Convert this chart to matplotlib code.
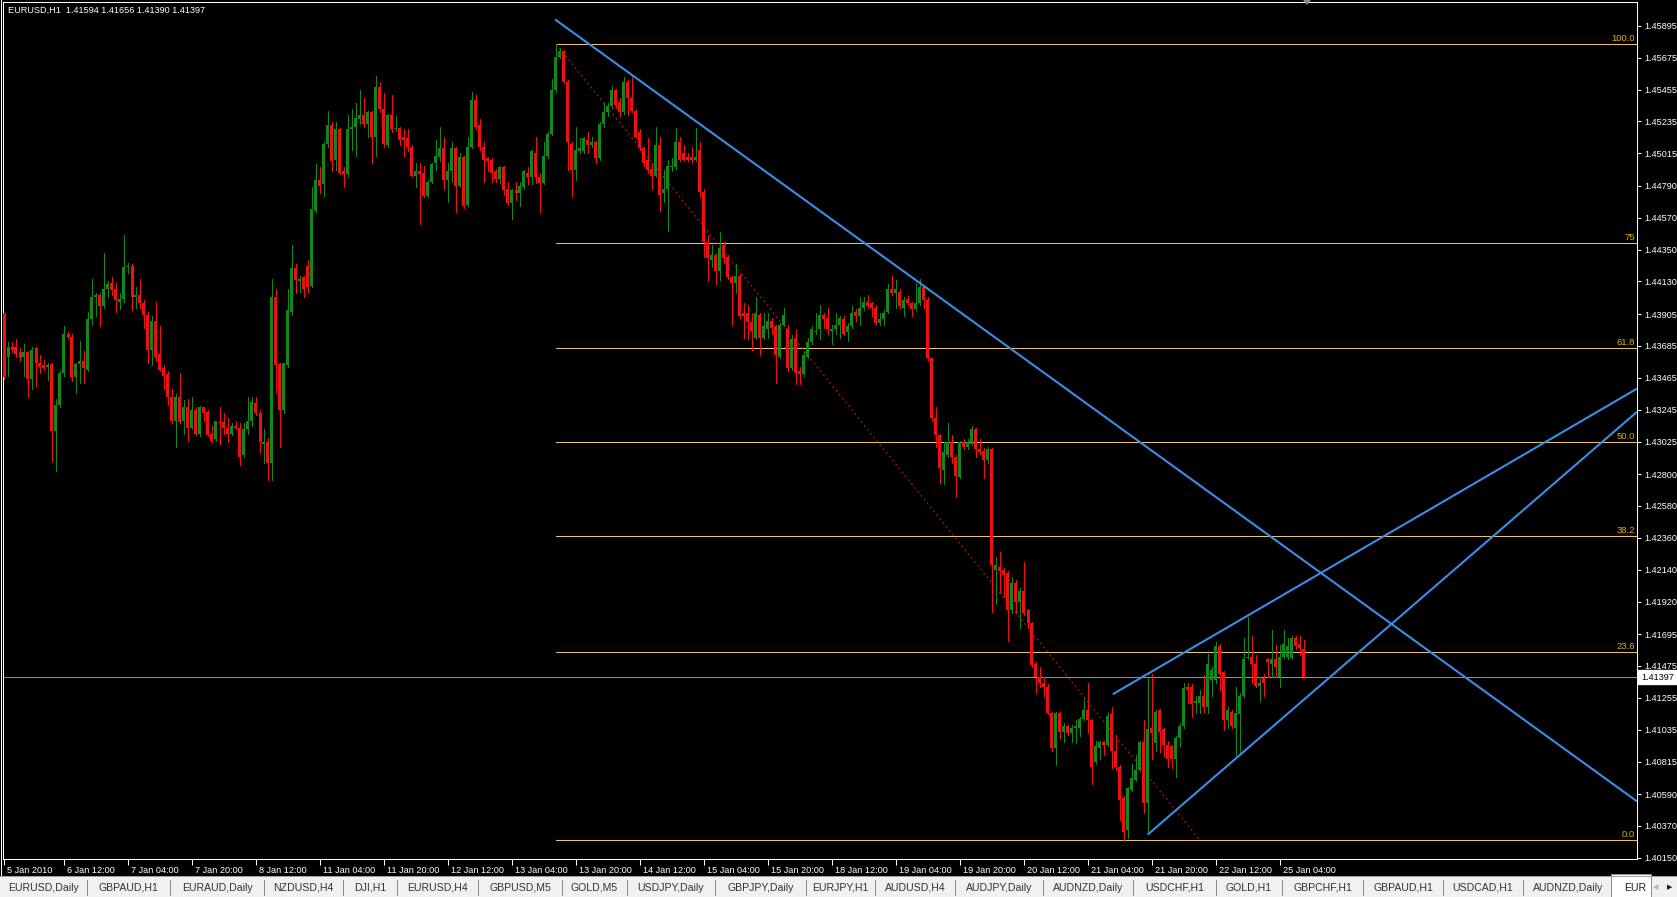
import matplotlib.pyplot as plt
import numpy as np
from matplotlib.patches import Rectangle, Polygon
from matplotlib.transforms import ScaledTranslation

plt.rcParams['font.family'] = ['Liberation Sans', 'DejaVu Sans']

#--- EURUSD H1 bars, one value per hourly bar
opens = [
    1.4391, 1.4361, 1.4368, 1.4368, 1.4364, 1.4361, 1.4364, 1.4346, 1.4367, 1.4357,
    1.4355, 1.4354, 1.4356, 1.4310, 1.4328, 1.4350, 1.4377, 1.4375, 1.4347, 1.4356,
    1.4358, 1.4352, 1.4387, 1.4402, 1.4404, 1.4396, 1.4408, 1.4412, 1.4408, 1.4399,
    1.4401, 1.4423, 1.4424, 1.4402, 1.4404, 1.4398, 1.4390, 1.4366, 1.4386, 1.4363,
    1.4353, 1.4349, 1.4333, 1.4317, 1.4333, 1.4317, 1.4326, 1.4312, 1.4324, 1.4308,
    1.4326, 1.4323, 1.4308, 1.4304, 1.4316, 1.4316, 1.4312, 1.4308, 1.4313, 1.4312,
    1.4293, 1.4311, 1.4317, 1.4329, 1.4322, 1.4301, 1.4302, 1.4288, 1.4402, 1.4356,
    1.4324, 1.4355, 1.4392, 1.4422, 1.4413, 1.4416, 1.4424, 1.4410, 1.4462, 1.4483,
    1.4480, 1.4508, 1.4521, 1.4497, 1.4518, 1.4489, 1.4487, 1.4518, 1.4520, 1.4525,
    1.4528, 1.4522, 1.4530, 1.4513, 1.4547, 1.4532, 1.4507, 1.4528, 1.4518, 1.4519,
    1.4513, 1.4512, 1.4506, 1.4486, 1.4489, 1.4488, 1.4472, 1.4482, 1.4495, 1.4499,
    1.4505, 1.4483, 1.4489, 1.4505, 1.4479, 1.4499, 1.4466, 1.4506, 1.4538, 1.4521,
    1.4506, 1.4498, 1.4497, 1.4489, 1.4484, 1.4492, 1.4477, 1.4467, 1.4476, 1.4474,
    1.4478, 1.4488, 1.4485, 1.4502, 1.4485, 1.4481, 1.4500, 1.4515, 1.4545, 1.4568,
    1.4572, 1.4551, 1.4508, 1.4490, 1.4503, 1.4503, 1.4511, 1.4507, 1.4509, 1.4498,
    1.4522, 1.4530, 1.4534, 1.4545, 1.4537, 1.4530, 1.4551, 1.4540, 1.4531, 1.4516,
    1.4505, 1.4497, 1.4491, 1.4486, 1.4507, 1.4474, 1.4477, 1.4492, 1.4492, 1.4509,
    1.4502, 1.4499, 1.4499, 1.4497, 1.4504, 1.4475, 1.4440, 1.4428, 1.4431, 1.4420,
    1.4438, 1.4430, 1.4416, 1.4412, 1.4417, 1.4391, 1.4391, 1.4385, 1.4374, 1.4390,
    1.4374, 1.4380, 1.4386, 1.4382, 1.4361, 1.4383, 1.4380, 1.4353, 1.4374, 1.4351,
    1.4349, 1.4361, 1.4371, 1.4378, 1.4380, 1.4390, 1.4388, 1.4379, 1.4380, 1.4383,
    1.4387, 1.4378, 1.4382, 1.4392, 1.4389, 1.4395, 1.4399, 1.4398, 1.4395, 1.4384,
    1.4387, 1.4392, 1.4408, 1.4405, 1.4406, 1.4395, 1.4401, 1.4398, 1.4394, 1.4398,
    1.4409, 1.4400, 1.4360, 1.4319, 1.4307, 1.4283, 1.4293, 1.4302, 1.4292, 1.4278,
    1.4302, 1.4299, 1.4301, 1.4311, 1.4297, 1.4296, 1.4290, 1.4297, 1.4214, 1.4216,
    1.4214, 1.4212, 1.4186, 1.4205, 1.4192, 1.4199, 1.4186, 1.4177, 1.4149, 1.4140,
    1.4136, 1.4133, 1.4115, 1.4091, 1.4115, 1.4102, 1.4106, 1.4101, 1.4105, 1.4105,
    1.4111, 1.4117, 1.4110, 1.4081, 1.4091, 1.4095, 1.4093, 1.4114, 1.4089, 1.4078,
    1.4056, 1.4034, 1.4062, 1.4069, 1.4076, 1.4095, 1.4053, 1.4105, 1.4094, 1.4117,
    1.4104, 1.4093, 1.4092, 1.4083, 1.4098, 1.4106, 1.4133, 1.4133, 1.4122, 1.4122,
    1.4127, 1.4119, 1.4138, 1.4138, 1.4161, 1.4143, 1.4110, 1.4116, 1.4105, 1.4114,
    1.4127, 1.4153, 1.4154, 1.4149, 1.4134, 1.4139, 1.4152, 1.4149, 1.4152, 1.4140,
    1.4154, 1.4154, 1.4153, 1.4167, 1.4163, 1.41594,
]
highs = [
    1.4391, 1.4371, 1.4371, 1.4373, 1.4367, 1.4370, 1.4365, 1.4368, 1.4368, 1.4362,
    1.4359, 1.4357, 1.4357, 1.4332, 1.4351, 1.4382, 1.4378, 1.4377, 1.4357, 1.4372,
    1.4365, 1.4392, 1.4415, 1.4405, 1.4405, 1.4433, 1.4413, 1.4416, 1.4412, 1.4405,
    1.4445, 1.4426, 1.4425, 1.4409, 1.4415, 1.4400, 1.4392, 1.4389, 1.4399, 1.4382,
    1.4355, 1.4351, 1.4339, 1.4335, 1.4350, 1.4331, 1.4332, 1.4333, 1.4326, 1.4327,
    1.4326, 1.4324, 1.4313, 1.4317, 1.4326, 1.4322, 1.4319, 1.4315, 1.4317, 1.4315,
    1.4315, 1.4333, 1.4333, 1.4333, 1.4324, 1.4311, 1.4305, 1.4415, 1.4408, 1.4357,
    1.4357, 1.4408, 1.4438, 1.4425, 1.4417, 1.4417, 1.4428, 1.4478, 1.4494, 1.4492,
    1.4509, 1.4531, 1.4523, 1.4523, 1.4519, 1.4492, 1.4528, 1.4532, 1.4536, 1.4545,
    1.4540, 1.4531, 1.4531, 1.4555, 1.4551, 1.4543, 1.4529, 1.4542, 1.4527, 1.4520,
    1.4518, 1.4518, 1.4507, 1.4495, 1.4495, 1.4493, 1.4483, 1.4495, 1.4511, 1.4520,
    1.4513, 1.4495, 1.4509, 1.4506, 1.4502, 1.4500, 1.4513, 1.4544, 1.4542, 1.4525,
    1.4509, 1.4499, 1.4498, 1.4491, 1.4493, 1.4493, 1.4482, 1.4477, 1.4482, 1.4482,
    1.4490, 1.4492, 1.4504, 1.4513, 1.4488, 1.4509, 1.4516, 1.4553, 1.4577, 1.4574,
    1.4573, 1.4552, 1.4509, 1.4520, 1.4512, 1.4513, 1.4516, 1.4513, 1.4510, 1.4523,
    1.4536, 1.4536, 1.4548, 1.4546, 1.4540, 1.4554, 1.4552, 1.4554, 1.4532, 1.4518,
    1.4506, 1.4512, 1.4495, 1.4520, 1.4513, 1.4490, 1.4497, 1.4498, 1.4519, 1.4513,
    1.4507, 1.4502, 1.4506, 1.4519, 1.4509, 1.4477, 1.4445, 1.4438, 1.4433, 1.4447,
    1.4440, 1.4431, 1.4417, 1.4425, 1.4418, 1.4398, 1.4397, 1.4391, 1.4402, 1.4391,
    1.4391, 1.4391, 1.4388, 1.4383, 1.4384, 1.4395, 1.4383, 1.4376, 1.4380, 1.4354,
    1.4364, 1.4374, 1.4382, 1.4391, 1.4397, 1.4391, 1.4395, 1.4383, 1.4391, 1.4389,
    1.4389, 1.4384, 1.4396, 1.4394, 1.4402, 1.4402, 1.4404, 1.4399, 1.4397, 1.4391,
    1.4393, 1.4411, 1.4417, 1.4414, 1.4408, 1.4402, 1.4403, 1.4399, 1.4412, 1.4415,
    1.4410, 1.4402, 1.4361, 1.4326, 1.4308, 1.4302, 1.4315, 1.4307, 1.4293, 1.4303,
    1.4304, 1.4304, 1.4313, 1.4312, 1.4304, 1.4298, 1.4299, 1.4298, 1.4223, 1.4226,
    1.4215, 1.4213, 1.4209, 1.4207, 1.4201, 1.4219, 1.4187, 1.4178, 1.4150, 1.4147,
    1.4140, 1.4135, 1.4116, 1.4116, 1.4116, 1.4108, 1.4107, 1.4107, 1.4110, 1.4112,
    1.4125, 1.4136, 1.4111, 1.4096, 1.4096, 1.4096, 1.4115, 1.4119, 1.4100, 1.4079,
    1.4058, 1.4064, 1.4080, 1.4086, 1.4096, 1.4110, 1.4139, 1.4142, 1.4117, 1.4118,
    1.4105, 1.4096, 1.4093, 1.4099, 1.4108, 1.4136, 1.4136, 1.4135, 1.4127, 1.4131,
    1.4141, 1.4156, 1.4147, 1.4164, 1.4163, 1.4144, 1.4119, 1.4117, 1.4133, 1.4129,
    1.4167, 1.4181, 1.4168, 1.4155, 1.4140, 1.4142, 1.4153, 1.4172, 1.4162, 1.4162,
    1.4172, 1.4167, 1.4168, 1.4168, 1.4168, 1.41656,
]
lows = [
    1.4346, 1.4348, 1.4364, 1.4361, 1.4358, 1.4348, 1.4333, 1.4339, 1.4341, 1.4350,
    1.4352, 1.4345, 1.4289, 1.4282, 1.4326, 1.4348, 1.4374, 1.4344, 1.4336, 1.4343,
    1.4343, 1.4351, 1.4383, 1.4389, 1.4382, 1.4395, 1.4402, 1.4404, 1.4392, 1.4394,
    1.4399, 1.4419, 1.4393, 1.4395, 1.4395, 1.4381, 1.4357, 1.4355, 1.4358, 1.4351,
    1.4339, 1.4328, 1.4315, 1.4299, 1.4315, 1.4308, 1.4303, 1.4311, 1.4307, 1.4306,
    1.4317, 1.4306, 1.4302, 1.4303, 1.4301, 1.4308, 1.4302, 1.4307, 1.4311, 1.4286,
    1.4292, 1.4308, 1.4313, 1.4321, 1.4295, 1.4288, 1.4276, 1.4276, 1.4336, 1.4299,
    1.4322, 1.4354, 1.4390, 1.4405, 1.4406, 1.4402, 1.4406, 1.4409, 1.4461, 1.4474,
    1.4472, 1.4506, 1.4489, 1.4490, 1.4487, 1.4478, 1.4485, 1.4504, 1.4500, 1.4522,
    1.4520, 1.4513, 1.4495, 1.4500, 1.4530, 1.4506, 1.4506, 1.4516, 1.4517, 1.4507,
    1.4500, 1.4503, 1.4485, 1.4478, 1.4453, 1.4471, 1.4471, 1.4481, 1.4490, 1.4496,
    1.4477, 1.4468, 1.4482, 1.4461, 1.4478, 1.4464, 1.4465, 1.4505, 1.4518, 1.4504,
    1.4482, 1.4489, 1.4482, 1.4482, 1.4481, 1.4473, 1.4466, 1.4456, 1.4469, 1.4465,
    1.4477, 1.4480, 1.4480, 1.4481, 1.4461, 1.4480, 1.4498, 1.4514, 1.4544, 1.4567,
    1.4550, 1.4490, 1.4472, 1.4483, 1.4502, 1.4502, 1.4502, 1.4506, 1.4495, 1.4497,
    1.4520, 1.4527, 1.4533, 1.4533, 1.4527, 1.4529, 1.4528, 1.4530, 1.4512, 1.4504,
    1.4493, 1.4488, 1.4477, 1.4485, 1.4462, 1.4468, 1.4448, 1.4489, 1.4491, 1.4496,
    1.4496, 1.4496, 1.4495, 1.4496, 1.4472, 1.4430, 1.4413, 1.4423, 1.4411, 1.4414,
    1.4426, 1.4415, 1.4383, 1.4405, 1.4388, 1.4374, 1.4373, 1.4366, 1.4373, 1.4362,
    1.4373, 1.4374, 1.4377, 1.4343, 1.4360, 1.4382, 1.4351, 1.4352, 1.4342, 1.4342,
    1.4348, 1.4360, 1.4370, 1.4377, 1.4373, 1.4381, 1.4377, 1.4370, 1.4377, 1.4374,
    1.4376, 1.4372, 1.4381, 1.4386, 1.4383, 1.4393, 1.4395, 1.4389, 1.4383, 1.4383,
    1.4383, 1.4391, 1.4404, 1.4395, 1.4395, 1.4389, 1.4397, 1.4389, 1.4393, 1.4397,
    1.4395, 1.4359, 1.4317, 1.4299, 1.4274, 1.4273, 1.4292, 1.4288, 1.4264, 1.4277,
    1.4297, 1.4297, 1.4300, 1.4292, 1.4294, 1.4277, 1.4288, 1.4185, 1.4190, 1.4198,
    1.4195, 1.4165, 1.4184, 1.4184, 1.4174, 1.4183, 1.4174, 1.4147, 1.4129, 1.4133,
    1.4126, 1.4114, 1.4089, 1.4079, 1.4098, 1.4095, 1.4100, 1.4095, 1.4094, 1.4099,
    1.4110, 1.4101, 1.4066, 1.4080, 1.4083, 1.4086, 1.4092, 1.4077, 1.4076, 1.4041,
    1.4027, 1.4029, 1.4061, 1.4068, 1.4075, 1.4046, 1.4033, 1.4083, 1.4089, 1.4088,
    1.4085, 1.4078, 1.4077, 1.4071, 1.4092, 1.4105, 1.4122, 1.4112, 1.4115, 1.4115,
    1.4116, 1.4115, 1.4127, 1.4136, 1.4131, 1.4103, 1.4105, 1.4105, 1.4086, 1.4086,
    1.4126, 1.4152, 1.4136, 1.4133, 1.4123, 1.4127, 1.4140, 1.4140, 1.4140, 1.4133,
    1.4153, 1.4152, 1.4152, 1.4159, 1.4155, 1.41390,
]
closes = [
    1.4347, 1.4368, 1.4366, 1.4363, 1.4360, 1.4364, 1.4346, 1.4366, 1.4357, 1.4354,
    1.4353, 1.4355, 1.4310, 1.4328, 1.4350, 1.4377, 1.4375, 1.4347, 1.4356, 1.4358,
    1.4353, 1.4387, 1.4402, 1.4404, 1.4396, 1.4408, 1.4411, 1.4407, 1.4400, 1.4401,
    1.4423, 1.4424, 1.4402, 1.4404, 1.4398, 1.4390, 1.4366, 1.4386, 1.4361, 1.4352,
    1.4348, 1.4333, 1.4317, 1.4333, 1.4316, 1.4326, 1.4312, 1.4324, 1.4308, 1.4326,
    1.4322, 1.4307, 1.4303, 1.4317, 1.4315, 1.4312, 1.4308, 1.4313, 1.4312, 1.4292,
    1.4311, 1.4317, 1.4330, 1.4322, 1.4302, 1.4302, 1.4288, 1.4402, 1.4355, 1.4324,
    1.4357, 1.4393, 1.4422, 1.4414, 1.4415, 1.4408, 1.4409, 1.4463, 1.4483, 1.4479,
    1.4508, 1.4521, 1.4496, 1.4518, 1.4488, 1.4487, 1.4518, 1.4520, 1.4526, 1.4528,
    1.4522, 1.4530, 1.4513, 1.4547, 1.4532, 1.4508, 1.4528, 1.4518, 1.4519, 1.4511,
    1.4511, 1.4506, 1.4486, 1.4489, 1.4487, 1.4472, 1.4482, 1.4494, 1.4500, 1.4505,
    1.4483, 1.4489, 1.4505, 1.4479, 1.4499, 1.4465, 1.4506, 1.4538, 1.4520, 1.4506,
    1.4497, 1.4496, 1.4488, 1.4484, 1.4492, 1.4476, 1.4467, 1.4476, 1.4474, 1.4479,
    1.4489, 1.4485, 1.4503, 1.4485, 1.4481, 1.4500, 1.4515, 1.4545, 1.4568, 1.4572,
    1.4551, 1.4509, 1.4490, 1.4504, 1.4505, 1.4512, 1.4507, 1.4509, 1.4498, 1.4522,
    1.4530, 1.4534, 1.4545, 1.4535, 1.4530, 1.4551, 1.4540, 1.4531, 1.4513, 1.4505,
    1.4495, 1.4490, 1.4486, 1.4507, 1.4473, 1.4477, 1.4493, 1.4493, 1.4509, 1.4497,
    1.4497, 1.4497, 1.4497, 1.4499, 1.4475, 1.4440, 1.4429, 1.4431, 1.4420, 1.4436,
    1.4429, 1.4416, 1.4412, 1.4417, 1.4389, 1.4389, 1.4385, 1.4379, 1.4391, 1.4374,
    1.4382, 1.4386, 1.4381, 1.4362, 1.4383, 1.4390, 1.4353, 1.4373, 1.4350, 1.4349,
    1.4362, 1.4371, 1.4380, 1.4379, 1.4390, 1.4387, 1.4380, 1.4380, 1.4383, 1.4388,
    1.4377, 1.4382, 1.4391, 1.4389, 1.4395, 1.4399, 1.4396, 1.4395, 1.4384, 1.4387,
    1.4391, 1.4408, 1.4405, 1.4408, 1.4396, 1.4400, 1.4398, 1.4394, 1.4398, 1.4409,
    1.4400, 1.4360, 1.4319, 1.4307, 1.4284, 1.4295, 1.4302, 1.4292, 1.4279, 1.4302,
    1.4299, 1.4302, 1.4311, 1.4297, 1.4295, 1.4290, 1.4297, 1.4217, 1.4217, 1.4213,
    1.4210, 1.4186, 1.4205, 1.4192, 1.4199, 1.4184, 1.4177, 1.4148, 1.4140, 1.4136,
    1.4133, 1.4115, 1.4091, 1.4115, 1.4102, 1.4106, 1.4101, 1.4105, 1.4106, 1.4111,
    1.4117, 1.4110, 1.4078, 1.4092, 1.4095, 1.4093, 1.4113, 1.4089, 1.4078, 1.4055,
    1.4033, 1.4063, 1.4070, 1.4076, 1.4095, 1.4053, 1.4104, 1.4101, 1.4116, 1.4102,
    1.4093, 1.4083, 1.4083, 1.4098, 1.4106, 1.4132, 1.4131, 1.4121, 1.4123, 1.4127,
    1.4119, 1.4149, 1.4145, 1.4161, 1.4142, 1.4110, 1.4117, 1.4106, 1.4115, 1.4127,
    1.4152, 1.4154, 1.4149, 1.4134, 1.4136, 1.4136, 1.4150, 1.4152, 1.4147, 1.4154,
    1.4163, 1.4161, 1.4167, 1.4161, 1.4160, 1.41397,
]

#--- Fibonacci retracement (bar index of the two anchors, prices)
fib_bars = [138, 299]
fib_high = 1.4577
fib_low = 1.4027
fib_levels = [0.0, 23.6, 38.2, 50.0, 61.8, 75.0, 100.0]
fib_labels = ['0.0', '23.6', '38.2', '50.0', '61.8', '75', '100.0']

#--- hand drawn trend lines (bar index, price)
down_bars = [137.75, 408.25]
down_prices = [1.4594, 1.4054]
upper_bars = [277.2, 408.25]
upper_prices = [1.4128, 1.4339]
lower_bars = [285.9, 408.25]
lower_prices = [1.4031, 1.4323]

#--- axis labels
price_ticks = [1.45895, 1.45675, 1.45455, 1.45235, 1.45015, 1.44790, 1.44570,
               1.44350, 1.44130, 1.43905, 1.43685, 1.43465, 1.43245, 1.43025,
               1.42800, 1.42580, 1.42360, 1.42140, 1.41920, 1.41695, 1.41475,
               1.41255, 1.41035, 1.40815, 1.40590, 1.40370, 1.40150]
time_bars = [0, 15, 31, 47, 63, 79, 95, 111, 127, 143, 159, 175, 191, 207,
             223, 239, 255, 271, 287, 303, 319]
time_labels = ['5 Jan 2010', '6 Jan 12:00', '7 Jan 04:00', '7 Jan 20:00',
               '8 Jan 12:00', '11 Jan 04:00', '11 Jan 20:00', '12 Jan 12:00',
               '13 Jan 04:00', '13 Jan 20:00', '14 Jan 12:00', '15 Jan 04:00',
               '15 Jan 20:00', '18 Jan 12:00', '19 Jan 04:00', '19 Jan 20:00',
               '20 Jan 12:00', '21 Jan 04:00', '21 Jan 20:00', '22 Jan 12:00',
               '25 Jan 04:00']

tab_names = ['EURUSD,Daily', 'GBPAUD,H1', 'EURAUD,Daily', 'NZDUSD,H4', 'DJI,H1',
             'EURUSD,H4', 'GBPUSD,M5', 'GOLD,M5', 'USDJPY,Daily', 'GBPJPY,Daily',
             'EURJPY,H1', 'AUDUSD,H4', 'AUDJPY,Daily', 'AUDNZD,Daily', 'USDCHF,H1',
             'GOLD,H1', 'GBPCHF,H1', 'GBPAUD,H1', 'USDCAD,H1', 'AUDNZD,Daily']
active_tab = 'EUR'

# layout (pixels) of the terminal window
W, H = 1677, 897
tab_seps = [87, 170, 264, 343, 397, 478, 562, 627, 715, 806, 875, 955, 1043,
            1133, 1216, 1282, 1363, 1443, 1523]

GREEN = '#11891a'
RED = '#f01010'
FIB = '#eac462'
FIB_TXT = '#dcb400'
BLUE = '#3a8ee8'
PX = 0.72

o = np.array(opens)
h = np.array(highs)
l = np.array(lows)
c = np.array(closes)
bar = np.arange(len(c))

fig = plt.figure(figsize=(W / 100, H / 100), dpi=100, facecolor='black')
ax = fig.add_axes([3 / W, 1 - 859 / H, 1634 / W, 857 / H], facecolor='black')
ax.set_xlim(-0.25, 408.25)
ax.set_ylim(1.40142, 1.46060)

#--- candles
up = c >= o
cols = np.where(up, GREEN, RED)
ax.vlines(bar, l, h, colors=cols, linewidth=PX, zorder=3, antialiased=False)
body_low = np.minimum(o, c)
body_h = np.maximum(np.abs(c - o), 0.00008)
ax.bar(bar, body_h, bottom=body_low, width=0.75, color=cols, linewidth=0,
       zorder=4, antialiased=False)

#--- fibonacci levels
for lvl, lab in zip(fib_levels, fib_labels):
    p = fib_low + (fib_high - fib_low) * lvl / 100
    ax.hlines(p, fib_bars[0], 408.25, color=FIB, linewidth=PX, zorder=2,
              antialiased=False)
    ax.annotate(lab, xy=(1, p), xycoords=('axes fraction', 'data'),
                xytext=(-2, 1), textcoords='offset pixels', ha='right', va='bottom',
                color=FIB_TXT, fontsize=6.8, zorder=6)
ax.plot(fib_bars, [fib_high, fib_low], color='#d01818', linewidth=PX,
        linestyle=(0, (2, 3)), zorder=2)

#--- trend lines
for xs, ys in [(down_bars, down_prices), (upper_bars, upper_prices),
               (lower_bars, lower_prices)]:
    ax.plot(xs, ys, color=BLUE, linewidth=1.5, solid_capstyle='butt', zorder=5)

#--- bid line
ax.axhline(c[-1], color='#8c9199', linewidth=PX, zorder=2, antialiased=False)
ax.annotate(f'{c[-1]:.5f}', xy=(1, c[-1]), xycoords=('axes fraction', 'data'),
            xytext=(4, 0), textcoords='offset pixels', ha='left', va='center',
            color='black', fontsize=6.6, annotation_clip=False,
            bbox=dict(boxstyle='square,pad=0.28', fc='white', ec='white'))

#--- axes
for s in ax.spines.values():
    s.set_color('white')
    s.set_linewidth(PX)
ax.yaxis.tick_right()
ax.set_yticks(price_ticks, labels=[f'{p:.5f}' for p in price_ticks])
ax.tick_params(axis='y', colors='white', length=3, width=PX, pad=2, labelsize=6.6)
ax.set_xticks(time_bars, labels=time_labels, ha='left')
ax.tick_params(axis='x', colors='white', length=4, width=PX, pad=1, labelsize=6.6)
shift = ScaledTranslation(3 / 100, 0, fig.dpi_scale_trans)
for lab in ax.get_xticklabels():
    lab.set_transform(lab.get_transform() + shift)

#--- window decorations, drawn in pixel space
ov = fig.add_axes([0, 0, 1, 1])
ov.set_xlim(0, W)
ov.set_ylim(H, 0)
ov.axis('off')
ov.plot([0.5, 0.5], [0, 876], color='white', linewidth=PX)
ov.text(8, 10, 'EURUSD,H1  ' + ' '.join(f'{v:.5f}' for v in (o[-1], h[-1], l[-1], c[-1])),
        color='white', fontsize=6.6, va='center', ha='left')
ov.add_patch(Polygon([[1303, 0], [1311, 0], [1307, 5]], closed=True, fc='#8c8c8c', ec='none'))

ov.add_patch(Rectangle((0, 876), W, 21, fc='#f0f0f0', ec='none'))
ov.plot([0, W], [876.5, 876.5], color='#a0a0a0', linewidth=PX)
edges = [0] + tab_seps + [1613]
for i, name in enumerate(tab_names):
    ov.text((edges[i] + edges[i + 1]) / 2, 888, name, ha='center', va='center',
            fontsize=7.6, color='#333333')
for s in tab_seps:
    ov.plot([s, s], [880, 895], color='#8c8c8c', linewidth=PX)
ov.add_patch(Rectangle((1611, 874), 40, 23, fc='white', ec='#8c8c8c', linewidth=PX))
ov.text(1624, 888, active_tab, ha='left', va='center', fontsize=7.6, color='#202020')
ov.text(1656, 888, '\u25c0', ha='center', va='center', fontsize=5, color='#b0b0b0')
ov.text(1670, 888, '\u25b6', ha='center', va='center', fontsize=5, color='#202020')

fig.savefig('out.png', dpi=100, facecolor='black')
